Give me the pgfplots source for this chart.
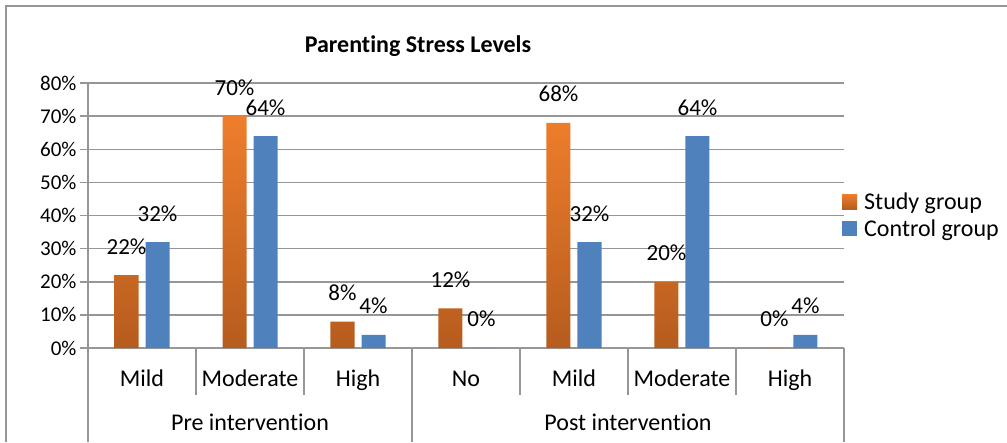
\documentclass[border=0pt]{standalone}
\usepackage{pgfplots}
\pgfplotsset{compat=1.18}
\usepackage{fontspec}
\setmainfont{Carlito}[RawFeature=-liga]
\definecolor{orTop}{RGB}{238,126,44}
\definecolor{orBot}{RGB}{182,92,30}
\definecolor{ctrl}{RGB}{79,129,189}
\definecolor{gridc}{RGB}{150,150,150}
\begin{document}
\begin{tikzpicture}
\useasboundingbox (0,0) rectangle (1007pt,442pt);
\draw[gridc, line width=1.5pt] (6pt,0) -- (6pt,436pt) -- (1007pt,436pt);
\node[font=\bfseries\fontsize{24}{28}\selectfont] at (418pt,396pt) {Parenting Stress Levels};
\begin{axis}[
  at={(88pt,94pt)}, anchor=south west,
  scale only axis, width=756pt, height=265pt,
  xmin=-0.5, xmax=6.5, ymin=0, ymax=80,
  ybar=7pt, bar width=24pt,
  axis line style={draw=none},
  ymajorgrids, grid style={gridc, line width=1.5pt},
  ytick={0,10,20,30,40,50,60,70,80},
  yticklabels={0\%,10\%,20\%,30\%,40\%,50\%,60\%,70\%,80\%},
  ytick pos=left, tick align=outside, major tick length=8pt,
  y tick style={gridc, line width=1.5pt},
  yticklabel style={font=\fontsize{21}{24}\selectfont},
  xtick={0,...,6},
  xticklabels={Mild,Moderate,High,No,Mild,Moderate,High},
  x tick style={draw=none},
  xticklabel style={font=\fontsize{24}{27}\selectfont, anchor=base, yshift=-30pt},
  clip=false,
  nodes near coords={\pgfmathprintnumber[assume math mode=true]{\pgfplotspointmeta}\%},
  every node near coord/.append style={font=\fontsize{23}{26}\selectfont, anchor=base, yshift=21pt, text=black},
  legend style={font=\fontsize{24}{28}\selectfont, draw=none, fill=none, inner sep=0pt,
    at={(0.9947,0.595)}, anchor=north west, row sep=5pt},
  legend cell align=left,
]
\addplot[draw=none, top color=orTop, bottom color=orBot,
  legend image code/.code={\fill[top color=orTop, bottom color=orBot] (2pt,-7.5pt) rectangle (17pt,7.5pt);
    \path (0pt,0pt) -- (22pt,0pt);}]
  coordinates {(0,22) (1,70) (2,8) (3,12) (4,68) (5,20) (6,0)};
\addlegendentry{Study group}
\addplot[draw=none, fill=ctrl,
  legend image code/.code={\fill[ctrl] (2pt,-7.5pt) rectangle (17pt,7.5pt);
    \path (0pt,0pt) -- (22pt,0pt);}]
  coordinates {(0,32) (1,64) (2,4) (3,0) (4,32) (5,64) (6,4)};
\addlegendentry{Control group}
\draw[gridc, line width=1.5pt] (rel axis cs:0,1) -- (rel axis cs:0,0) -- ([yshift=-94pt]rel axis cs:0,0);
\draw[gridc, line width=1.5pt] (axis cs:2.5,0) -- ([yshift=-94pt]axis cs:2.5,0);
\draw[gridc, line width=1.5pt] (axis cs:6.5,0) -- ([yshift=-94pt]axis cs:6.5,0);
\draw[gridc, line width=1.5pt] (axis cs:0.5,0) -- ([yshift=-47pt]axis cs:0.5,0);
\draw[gridc, line width=1.5pt] (axis cs:1.5,0) -- ([yshift=-47pt]axis cs:1.5,0);
\draw[gridc, line width=1.5pt] (axis cs:3.5,0) -- ([yshift=-47pt]axis cs:3.5,0);
\draw[gridc, line width=1.5pt] (axis cs:4.5,0) -- ([yshift=-47pt]axis cs:4.5,0);
\draw[gridc, line width=1.5pt] (axis cs:5.5,0) -- ([yshift=-47pt]axis cs:5.5,0);
\node[font=\fontsize{24}{27}\selectfont, anchor=base] at ([yshift=-82pt]axis cs:1,0) {Pre intervention};
\node[font=\fontsize{24}{27}\selectfont, anchor=base] at ([yshift=-82pt]axis cs:4.5,0) {Post intervention};
\end{axis}
\end{tikzpicture}
\end{document}
